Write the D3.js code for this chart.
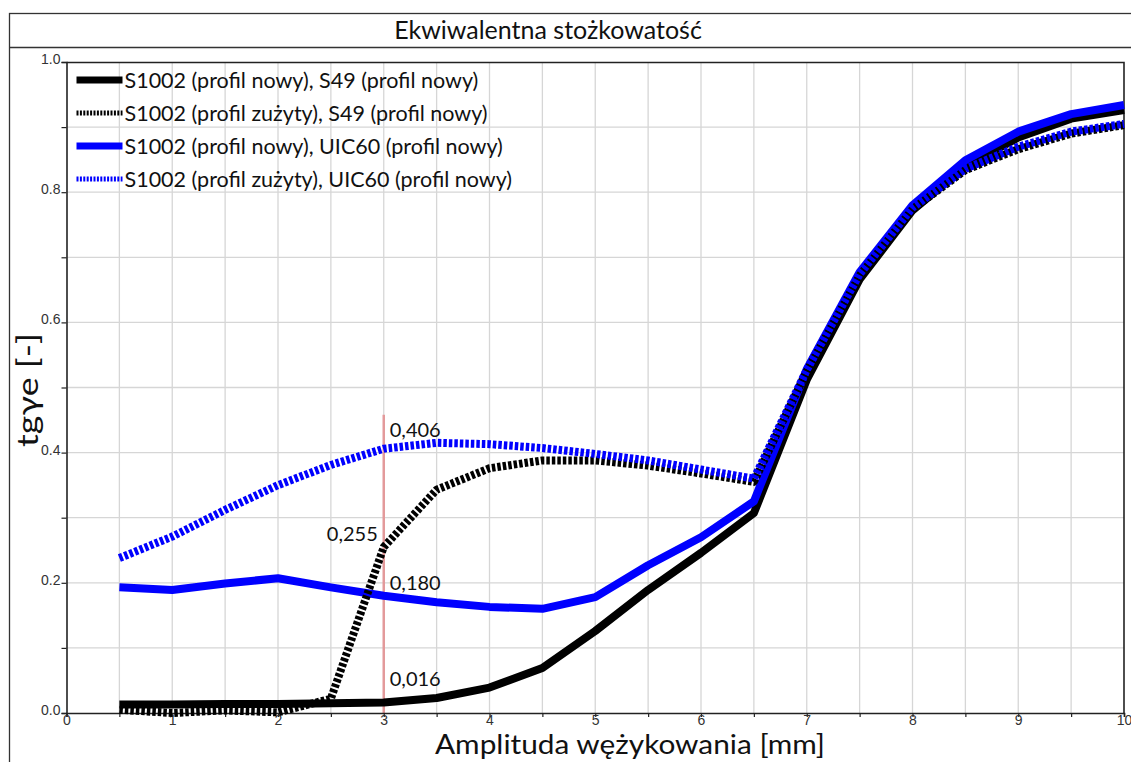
<!DOCTYPE html>
<html>
<head>
<meta charset="utf-8">
<script src="https://cdn.jsdelivr.net/npm/d3@7"></script>
<style>
  html, body { margin: 0; padding: 0; background: #fff; }
  svg { display: block; }
</style>
</head>
<body>
<div id="chart"></div>
<script>
// Data
const amplitudes = [0.5, 1, 1.5, 2, 2.5, 3, 3.5, 4, 4.5, 5, 5.5, 6, 6.5, 7, 7.5, 8, 8.5, 9, 9.5, 10];
const s49New   = [0.013, 0.013, 0.014, 0.014, 0.015, 0.016, 0.023, 0.039, 0.069, 0.126, 0.189, 0.246, 0.307, 0.512, 0.666, 0.772, 0.840, 0.884, 0.913, 0.926];
const s49Worn  = [0.005, 0.000, 0.004, 0.001, 0.022, 0.255, 0.343, 0.376, 0.388, 0.388, 0.380, 0.368, 0.355, 0.525, 0.672, 0.774, 0.834, 0.866, 0.890, 0.903];
const uicNew   = [0.193, 0.189, 0.199, 0.207, 0.193, 0.180, 0.170, 0.163, 0.160, 0.178, 0.227, 0.270, 0.325, 0.528, 0.677, 0.780, 0.849, 0.893, 0.920, 0.934];
const uicWorn  = [0.238, 0.271, 0.312, 0.350, 0.381, 0.406, 0.415, 0.413, 0.407, 0.398, 0.388, 0.374, 0.360, 0.527, 0.674, 0.776, 0.836, 0.870, 0.893, 0.905];
const seriesNames = [
  "S1002 (profil nowy), S49 (profil nowy)",
  "S1002 (profil zużyty), S49 (profil nowy)",
  "S1002 (profil nowy), UIC60 (profil nowy)",
  "S1002 (profil zużyty), UIC60 (profil nowy)"
];
const markerX = 3;
const markerValues = [0.406, 0.255, 0.180, 0.016];
const markerLabels = ["0,406", "0,255", "0,180", "0,016"];
const xTickLabels = ["0", "1", "2", "3", "4", "5", "6", "7", "8", "9", "10"];
const yTickLabels = ["0.0", "0.2", "0.4", "0.6", "0.8", "1.0"];

const width = 1131;
const height = 762;
const margin = {top: 62, right: 7, bottom: 49, left: 66.5};
const innerWidth = width - margin.left - margin.right;
const innerHeight = height - margin.top - margin.bottom;
const calibri = "Lato, 'Open Sans', sans-serif";

const svg = d3.select("#chart")
  .append("svg")
    .attr("width", width)
    .attr("height", height);

// outer frame with title band
svg.append("rect")
  .attr("x", 9.5).attr("y", 13.5)
  .attr("width", width + 10).attr("height", height + 10)
  .attr("fill", "none").attr("stroke", "#333").attr("stroke-width", 1.3);
svg.append("line")
  .attr("x1", 9.5).attr("x2", width)
  .attr("y1", 47.5).attr("y2", 47.5)
  .attr("stroke", "#333").attr("stroke-width", 1.3);
svg.append("text")
  .text("Ekwiwalentna stożkowatość")
  .attr("x", 548).attr("y", 39)
  .attr("text-anchor", "middle")
  .attr("font-family", calibri)
  .attr("font-size", 25)
  .attr("fill", "#111");

const innerChart = svg.append("g")
  .attr("transform", `translate(${margin.left}, ${margin.top})`);

const xScale = d3.scaleLinear().domain([0, 10]).range([0, innerWidth]);
const yScale = d3.scaleLinear().domain([0, 1]).range([innerHeight, 0]);

// grid
const gridX = d3.range(1, 20).map(i => i * 0.5);
const gridY = d3.range(1, 10).map(i => i * 0.1);
innerChart.append("g").selectAll("line")
  .data(gridX).join("line")
    .attr("x1", d => xScale(d)).attr("x2", d => xScale(d))
    .attr("y1", 0).attr("y2", innerHeight)
    .attr("stroke", "#d6d6d6").attr("stroke-width", 1.3);
innerChart.append("g").selectAll("line")
  .data(gridY).join("line")
    .attr("x1", 0).attr("x2", innerWidth)
    .attr("y1", d => yScale(d)).attr("y2", d => yScale(d))
    .attr("stroke", "#d6d6d6").attr("stroke-width", 1.3);

// frame top/right
innerChart.append("path")
  .attr("d", `M0,0.5H${innerWidth}V${innerHeight}`)
  .attr("fill", "none").attr("stroke", "#222").attr("stroke-width", 1.6);

// marker line at x = 3
innerChart.append("line")
  .attr("x1", xScale(markerX)).attr("x2", xScale(markerX))
  .attr("y1", yScale(0.458)).attr("y2", innerHeight)
  .attr("stroke", "#e39a9b").attr("stroke-width", 2.5);

// axes
const bottomAxis = d3.axisBottom(xScale)
  .tickValues(d3.range(0, 21).map(i => i * 0.5))
  .tickSize(4)
  .tickFormat(d => Number.isInteger(d) ? xTickLabels[d] : "");
const xAxisG = innerChart.append("g")
  .attr("transform", `translate(0, ${innerHeight})`)
  .call(bottomAxis);
const leftAxis = d3.axisLeft(yScale)
  .tickValues(d3.range(0, 11).map(i => i * 0.1))
  .tickSize(5)
  .tickFormat((d, i) => i % 2 === 0 ? yTickLabels[i / 2] : "");
const yAxisG = innerChart.append("g").call(leftAxis);
[xAxisG, yAxisG].forEach(g => {
  g.attr("font-size", null).attr("font-family", null);
  g.select(".domain").attr("stroke", "#222").attr("stroke-width", 1.6);
  g.selectAll(".tick line").attr("stroke", "#222").attr("stroke-width", 1.2);
  g.selectAll(".tick text")
    .filter(function() { return this.textContent === ""; })
    .remove();
  g.selectAll(".tick text")
    .style("font-family", "'Liberation Sans', Arial, sans-serif")
    .style("font-size", "14px")
    .attr("fill", "#333");
});
xAxisG.selectAll(".tick text").attr("y", 2);
yAxisG.selectAll(".tick text").attr("dy", "0.1em").attr("x", -6);

// series
const series = [
  {name: seriesNames[0], values: s49New,  color: "#000000", dash: null},
  {name: seriesNames[2], values: uicNew,  color: "#0000ff", dash: null},
  {name: seriesNames[1], values: s49Worn, color: "#000000", dash: "3.5,2"},
  {name: seriesNames[3], values: uicWorn, color: "#0000ff", dash: "3.5,2"}
];
const lineGenerator = d3.line()
  .x(d => xScale(d[0]))
  .y(d => yScale(d[1]));
innerChart.append("g").selectAll("path")
  .data(series).join("path")
    .attr("d", s => lineGenerator(amplitudes.map((a, i) => [a, s.values[i]])))
    .attr("fill", "none")
    .attr("stroke", s => s.color)
    .attr("stroke-width", 8)
    .attr("stroke-dasharray", s => s.dash)
    .attr("stroke-linejoin", "round");

// marker labels
const labelOffsets = [[6, -12, "start"], [-6, -6, "end"], [6, -6, "start"], [6, -17, "start"]];
innerChart.append("g").selectAll("text")
  .data(markerValues).join("text")
    .text((d, i) => markerLabels[i])
    .attr("x", (d, i) => xScale(markerX) + labelOffsets[i][0])
    .attr("y", (d, i) => yScale(d) + labelOffsets[i][1])
    .attr("text-anchor", (d, i) => labelOffsets[i][2])
    .attr("font-family", calibri)
    .attr("font-size", 20)
    .attr("fill", "#111");

// legend
const legendOrder = [
  {name: seriesNames[0], color: "#000", dash: null, w: 7},
  {name: seriesNames[1], color: "#000", dash: "2,1.4", w: 5},
  {name: seriesNames[2], color: "#0000ff", dash: null, w: 7},
  {name: seriesNames[3], color: "#0000ff", dash: "2,1.4", w: 5}
];
const legend = innerChart.append("g").attr("transform", "translate(10, 18)");
const rows = legend.selectAll("g")
  .data(legendOrder).join("g")
    .attr("transform", (d, i) => `translate(0, ${i * 33})`);
rows.append("line")
  .attr("x1", 0).attr("x2", 46)
  .attr("stroke", d => d.color)
  .attr("stroke-width", d => d.w)
  .attr("stroke-dasharray", d => d.dash);
rows.append("text")
  .text(d => d.name)
  .attr("x", 48).attr("y", 7.5)
  .attr("font-family", calibri)
  .attr("font-size", 21.5)
  .attr("fill", "#111");

// axis titles
svg.append("text")
  .text("Amplituda wężykowania [mm]")
  .attr("x", 630).attr("y", 754)
  .attr("text-anchor", "middle")
  .attr("textLength", 390)
  .attr("lengthAdjust", "spacingAndGlyphs")
  .attr("font-family", calibri)
  .attr("font-size", 27)
  .attr("fill", "#111");
svg.append("text")
  .text("tgγe [-]")
  .attr("transform", "translate(38, 390) rotate(-90)")
  .attr("text-anchor", "middle")
  .attr("textLength", 114)
  .attr("lengthAdjust", "spacingAndGlyphs")
  .attr("font-family", calibri)
  .attr("font-size", 29)
  .attr("fill", "#111");
</script>
</body>
</html>
